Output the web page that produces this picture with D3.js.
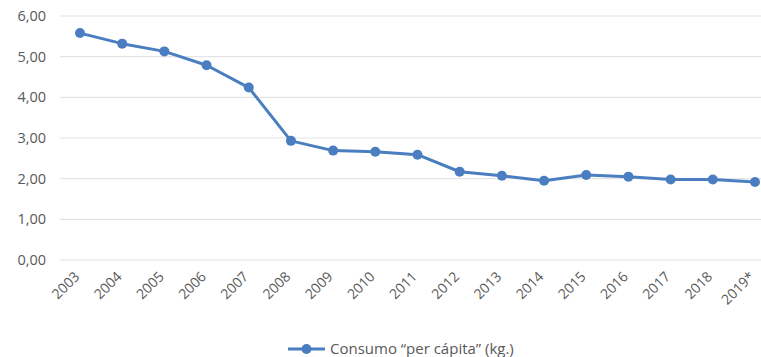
<!DOCTYPE html>
<html>
<head>
<meta charset="utf-8">
<script src="https://cdn.jsdelivr.net/npm/d3@7"></script>
<style>
  body { margin: 0; background: #fff; }
  text { font-family: "Open Sans", sans-serif; fill: #595959; }
</style>
</head>
<body>
<div id="chart"></div>
<script>
// data
const years = ["2003", "2004", "2005", "2006", "2007", "2008", "2009", "2010", "2011", "2012", "2013", "2014", "2015", "2016", "2017", "2018", "2019*"]
const consumo = [5.58, 5.32, 5.13, 4.79, 4.24, 2.93, 2.69, 2.66, 2.59, 2.17, 2.07, 1.95, 2.09, 2.05, 1.98, 1.98, 1.92]
const yTicks = [0, 1, 2, 3, 4, 5, 6]
const legendLabel = "Consumo “per cápita” (kg.)"

const color = "#4a7ec0"

const svg = d3.select("#chart").append("svg").attr("width", 761).attr("height", 357)

const x = d3.scalePoint().domain(years).range([80, 755])
const y = d3.scaleLinear().domain([0, 6]).range([260, 16])

// gridlines
svg.append("g")
  .selectAll("line")
  .data(yTicks)
  .enter()
  .append("line")
  .attr("x1", 60).attr("x2", 761)
  .attr("y1", d => y(d)).attr("y2", d => y(d))
  .attr("stroke", "#e4e4e4").attr("stroke-width", 1.2)

// y labels
svg.append("g")
  .selectAll("text")
  .data(yTicks)
  .enter()
  .append("text")
  .attr("x", 46)
  .attr("y", d => y(d))
  .attr("dy", "0.35em")
  .attr("text-anchor", "end")
  .style("font-size", "14.5px")
  .text(d => d3.format(".2f")(d).replace(".", ","))

// x labels, rotated
svg.append("g")
  .selectAll("text")
  .data(years)
  .enter()
  .append("text")
  .attr("transform", d => `translate(${x(d) - 3},${274}) rotate(-45)`)
  .attr("text-anchor", "end")
  .attr("dy", "0.35em")
  .style("font-size", "14px")
  .text(d => d)

// line
const line = d3.line().x((d, i) => x(years[i])).y(d => y(d))
svg.append("path")
  .datum(consumo)
  .attr("d", line)
  .attr("fill", "none")
  .attr("stroke", color)
  .attr("stroke-width", 3)
  .attr("stroke-linejoin", "round")

svg.append("g")
  .selectAll("circle")
  .data(consumo)
  .enter()
  .append("circle")
  .attr("cx", (d, i) => x(years[i]))
  .attr("cy", d => y(d))
  .attr("r", 5)
  .attr("fill", color)

// legend
const legend = svg.append("g").attr("transform", "translate(288,349)")
legend.append("line").attr("x1", 0).attr("x2", 37).attr("y1", 0).attr("y2", 0).attr("stroke", color).attr("stroke-width", 3)
legend.append("circle").attr("cx", 18.5).attr("cy", 0).attr("r", 5).attr("fill", color)
legend.append("text").attr("x", 42).attr("y", 0).attr("dy", "0.35em").style("font-size", "15px").text(legendLabel)
</script>
</body>
</html>
